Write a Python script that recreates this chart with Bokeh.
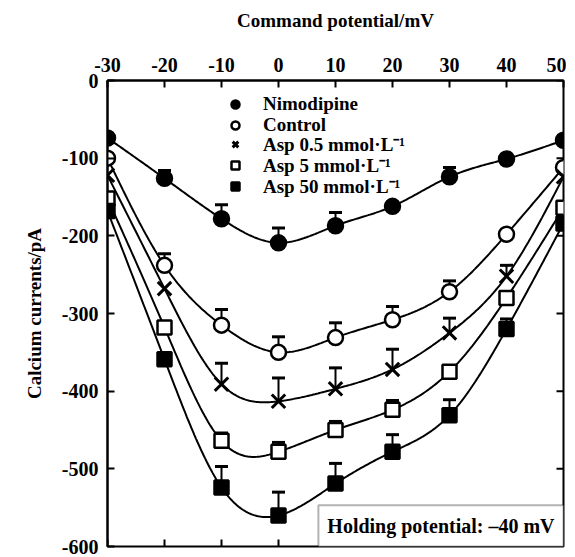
import numpy as np
from bokeh.plotting import figure
from bokeh.models import (FixedTicker, Legend, LegendItem, Label,
                          BoxAnnotation, Range1d)
from bokeh.embed import file_html
from bokeh.resources import INLINE

# ---- data ----
potential = [-30, -20, -10, 0, 10, 20, 30, 40, 50]
nimodipine = [-74, -126, -178, -209, -187, -162, -124, -101, -77]
control = [-100, -238, -315, -350, -331, -308, -272, -198, -112]
asp_05 = [-122, -268, -391, -413, -397, -372, -325, -252, -124]
asp_5 = [-152, -318, -464, -478, -450, -424, -375, -280, -164]
asp_50 = [-168, -359, -524, -560, -519, -478, -431, -320, -184]

err_nimodipine = [0, 10, 18, 19, 17, 4, 12, 4, 0]
err_control = [0, 15, 20, 20, 19, 17, 14, 0, 0]
err_asp_05 = [0, 0, 27, 30, 27, 26, 19, 14, 0]
err_asp_5 = [0, 0, 10, 12, 11, 12, 8, 0, 0]
err_asp_50 = [0, 0, 27, 30, 26, 22, 20, 13, 0]

labels = ["Nimodipine", "Control", "Asp 0.5 mmol\u00b7L\u207b\u00b9",
          "Asp 5 mmol\u00b7L\u207b\u00b9", "Asp 50 mmol\u00b7L\u207b\u00b9"]
x_ticks = [-30, -20, -10, 0, 10, 20, 30, 40, 50]
x_tick_labels = ["-30", "-20", "-10", "0", "10", "20", "30", "40", "50"]
y_ticks = [0, -100, -200, -300, -400, -500, -600]
y_tick_labels = ["0", "-100", "-200", "-300", "-400", "-500", "-600"]

FONT = "Liberation Serif"
X_MIN, X_MAX, Y_MIN, Y_MAX = -30, 50, -600, 0


def natural_spline(xs, ys, n=300):
    xs = np.asarray(xs, float)
    ys = np.asarray(ys, float)
    m = len(xs)
    h = np.diff(xs)
    A = np.zeros((m, m))
    r = np.zeros(m)
    A[0, 0] = 1.0
    A[-1, -1] = 1.0
    for i in range(1, m - 1):
        A[i, i - 1] = h[i - 1]
        A[i, i] = 2 * (h[i - 1] + h[i])
        A[i, i + 1] = h[i]
        r[i] = 3 * ((ys[i + 1] - ys[i]) / h[i] - (ys[i] - ys[i - 1]) / h[i - 1])
    c = np.linalg.solve(A, r)
    b = (ys[1:] - ys[:-1]) / h - h * (2 * c[:-1] + c[1:]) / 3
    d = (c[1:] - c[:-1]) / (3 * h)
    xx = np.linspace(xs[0], xs[-1], n)
    idx = np.clip(np.searchsorted(xs, xx, side="right") - 1, 0, m - 2)
    dx = xx - xs[idx]
    yy = ys[idx] + b[idx] * dx + c[idx] * dx ** 2 + d[idx] * dx ** 3
    return xx, yy


p = figure(width=566, height=556, output_backend="svg", toolbar_location=None,
           x_range=Range1d(X_MIN, X_MAX), y_range=Range1d(Y_MIN, Y_MAX),
           x_axis_location="above", min_border_left=107, min_border_top=80,
           min_border_right=3, min_border_bottom=10)
p.background_fill_color = "white"
p.border_fill_color = "white"
p.grid.visible = False
p.outline_line_color = "black"
p.outline_line_width = 2

xa = p.xaxis[0]
xa.ticker = FixedTicker(ticks=x_ticks)
xa.major_label_overrides = {t: s for t, s in zip(x_ticks, x_tick_labels)}
xa.axis_label = "Command potential/mV"
ya = p.yaxis[0]
ya.ticker = FixedTicker(ticks=y_ticks)
ya.major_label_overrides = {t: s for t, s in zip(y_ticks, y_tick_labels)}
ya.axis_label = "Calcium currents/pA"
for ax in (xa, ya):
    ax.axis_line_width = 2
    ax.major_tick_in = 7
    ax.major_tick_out = 0
    ax.major_tick_line_width = 2
    ax.minor_tick_line_color = None
    ax.major_label_text_font = FONT
    ax.major_label_text_font_style = "bold"
    ax.major_label_text_font_size = "20px"
    ax.major_label_text_color = "black"
    ax.axis_label_text_font = FONT
    ax.axis_label_text_font_style = "bold"
    ax.axis_label_text_font_size = "19px"
    ax.axis_label_text_color = "black"
xa.major_label_standoff = 9
xa.axis_label_standoff = 24
ya.major_label_standoff = 9
ya.axis_label_standoff = 14

# inward ticks on bottom and right edges of the frame
tick_dy = (Y_MAX - Y_MIN) * 7 / 466
tick_dx = (X_MAX - X_MIN) * 7 / 456
p.segment(x_ticks, [Y_MIN] * len(x_ticks), x_ticks, [Y_MIN + tick_dy] * len(x_ticks),
          line_color="black", line_width=2)
p.segment([X_MAX] * len(y_ticks), y_ticks, [X_MAX - tick_dx] * len(y_ticks), y_ticks,
          line_color="black", line_width=2)

series = [
    (nimodipine, err_nimodipine, "circle", "black"),
    (control, err_control, "circle", "white"),
    (asp_05, err_asp_05, "x", "black"),
    (asp_5, err_asp_5, "square", "white"),
    (asp_50, err_asp_50, "square", "black"),
]
sizes = {"circle": 15, "x": 19, "square": 14}
widths = {"circle": 2.5, "x": 3, "square": 2.5}

# one single-row legend per series, stacked ~21 px apart
legend_rows_y = [431, 410, 389, 368, 347]

for (vals, errs, marker, fill), lab, ly in zip(series, labels, legend_rows_y):
    xx, yy = natural_spline(potential, vals)
    p.line(xx, yy, line_color="black", line_width=2)
    ex = [x for x, e in zip(potential, errs) if e > 0]
    ey0 = [v for v, e in zip(vals, errs) if e > 0]
    ey1 = [v + e for v, e in zip(vals, errs) if e > 0]
    p.segment(ex, ey0, ex, ey1, line_color="black", line_width=2)
    p.scatter(ex, ey1, marker="dash", size=13, line_color="black", line_width=3)
    r = p.scatter(potential, vals, marker=marker, size=sizes[marker],
                  fill_color=fill, line_color="black", line_width=widths[marker])
    leg = Legend(items=[LegendItem(label=lab, renderers=[r])], location=(118, ly),
                 label_text_font=FONT, label_text_font_style="bold",
                 label_text_font_size="19px", label_text_color="black",
                 label_standoff=18, glyph_width=20, glyph_height=20,
                 label_height=20, spacing=0, padding=0, margin=0,
                 border_line_color=None, background_fill_alpha=0)
    p.add_layout(leg, "center")

box = BoxAnnotation(left=7, right=X_MAX, bottom=Y_MIN, top=-547,
                    fill_color="white", fill_alpha=1,
                    line_color="black", line_width=2)
p.add_layout(box)
p.add_layout(Label(x=28.5, y=-573, text="Holding potential: \u201340 mV",
                   text_font=FONT, text_font_style="bold",
                   text_font_size="20px", text_align="center",
                   text_baseline="middle", text_color="black"))

open("out.html", "w").write(file_html(p, INLINE))
